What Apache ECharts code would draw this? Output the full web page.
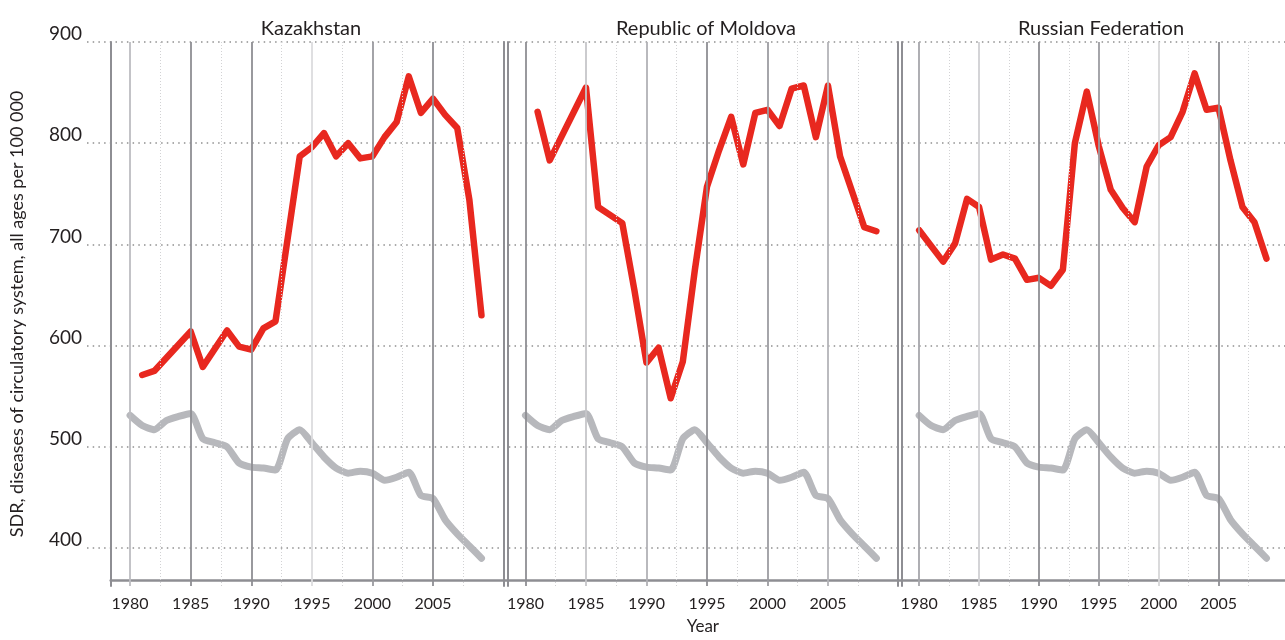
<!DOCTYPE html>
<html>
<head>
<meta charset="utf-8">
<script src="https://cdn.jsdelivr.net/npm/echarts@6/dist/echarts.min.js"></script>
<style>
html, body { margin: 0; padding: 0; background: #fff; }
#chart { width: 1285px; height: 640px; }
</style>
</head>
<body>
<div id="chart"></div>
<script>
// ---- data ----
const panelNames = ['Kazakhstan', 'Republic of Moldova', 'Russian Federation']

// grey reference line (same in every panel)
const refYears = [1980, 1981, 1982, 1983, 1984, 1985, 1986, 1987, 1988, 1989,
  1990, 1991, 1992, 1993, 1994, 1995, 1996, 1997, 1998, 1999,
  2000, 2001, 2002, 2003, 2004, 2005, 2006, 2007, 2008, 2009]
const refValues = [531, 521, 517, 526, 530, 533, 508, 504, 500, 484,
  480, 479, 477, 508, 517, 504, 490, 479, 474, 476,
  474, 467, 470, 475, 452, 449, 428, 414, 402, 390]

// country lines (only the years where the line has a vertex)
const kazYears = [1981, 1982, 1985, 1986, 1988, 1989, 1990, 1991, 1992, 1994, 1995, 1996, 1997,
  1998, 1999, 2000, 2001, 2002, 2003, 2004, 2005, 2006, 2007, 2008, 2009]
const kazValues = [571, 575, 614, 579, 615, 599, 596, 617, 624, 787, 796, 810, 787,
  800, 785, 787, 806, 821, 866, 830, 844, 828, 815, 744, 630]

const molYears = [1981, 1982, 1985, 1986, 1988, 1989, 1990, 1991, 1992, 1993, 1994, 1995, 1996,
  1997, 1998, 1999, 2000, 2001, 2002, 2003, 2004, 2005, 2006, 2007, 2008, 2009]
const molValues = [831, 783, 855, 737, 721, 655, 583, 598, 548, 584, 675, 757, 793,
  826, 779, 830, 833, 817, 854, 857, 806, 857, 787, 752, 717, 713]

const rusYears = [1980, 1982, 1983, 1984, 1985, 1986, 1987, 1988, 1989, 1990, 1991, 1992, 1993,
  1994, 1995, 1996, 1997, 1998, 1999, 2000, 2001, 2002, 2003, 2004, 2005, 2006, 2007, 2008, 2009]
const rusValues = [714, 683, 701, 745, 737, 685, 690, 686, 665, 667, 659, 675, 800,
  851, 797, 754, 736, 722, 777, 798, 806, 831, 869, 833, 835, 783, 737, 722, 686]

const countryYears = [kazYears, molYears, rusYears]
const countryValues = [kazValues, molValues, rusValues]

// axis ticks
const xLabels = [1980, 1985, 1990, 1995, 2000, 2005]
const minorYears = [1982.5, 1987.5, 1992.5, 1997.5, 2002.5, 2007.5]

// ---- layout / style ----
const FONT = 'Lato'
const TXT = '#231f20'
const FRAME = '#8e8e93'
const Y_MIN = 362.5
const Y_MAX = 900
const TOP = 42
const BOTTOM = 54

const panels = [
  { left: 110.7, right: 781.7, min: 1978.4, max: 2010.8, center: 306, border: true,
    shades: ['#bdbdc1', '#8e8e93', '#8e8e93', '#dcdcde', '#9a9a9f', '#8e8e93'] },
  { left: 507.7, right: 387.7, min: 1978.53, max: 2010.73, center: 701, border: true,
    shades: ['#8e8e93', '#c6c6c9', '#b2b2b6', '#8e8e93', '#9c9ca1', '#b4b4b8'] },
  { left: 901.7, right: 0, min: 1978.54, max: 2010.3, center: 1096, border: false,
    shades: ['#a6a6ab', '#d0d0d3', '#8e8e93', '#9c9ca1', '#d6d6d8', '#8e8e93'] }
]

const pairs = (xs, ys) => xs.map((x, i) => [x, ys[i]])

let grid = []
let xAxis = []
let yAxis = []
let series = []
let title = []

// background grid: y labels, dotted horizontal lines
grid.push({ left: 85, right: 0, top: TOP, bottom: BOTTOM })
xAxis.push({ gridIndex: 0, type: 'value', min: 0, max: 1, show: false })
yAxis.push({
  gridIndex: 0, type: 'value', min: Y_MIN, max: Y_MAX,
  name: 'SDR, diseases of circulatory system, all ages per 100 000',
  nameLocation: 'middle', nameGap: 61,
  nameTextStyle: { fontFamily: FONT, fontSize: 18, color: TXT },
  axisLine: { show: false },
  axisTick: { show: false },
  axisLabel: {
    showMinLabel: false, margin: 5, fontFamily: FONT, fontSize: 19, color: TXT,
    verticalAlign: 'bottom', lineHeight: 16
  },
  splitLine: {
    show: true, showMinLine: false,
    lineStyle: { color: '#909090', width: 1.5, type: [1.5, 4.2] }
  }
})

panels.forEach((p, i) => {
  let g = i + 1
  grid.push({ left: p.left, right: p.right, top: TOP, bottom: BOTTOM })
  xAxis.push({
    gridIndex: g, type: 'value', min: p.min, max: p.max,
    axisLine: { show: false },
    axisTick: { show: false },
    splitLine: { show: false },
    axisLabel: {
      margin: 10, fontFamily: FONT, fontSize: 16, color: TXT,
      formatter: v => xLabels.indexOf(v) >= 0 ? String(v) : ''
    }
  })
  // left border of the panel
  yAxis.push({
    gridIndex: g, type: 'value', min: Y_MIN, max: Y_MAX,
    axisLine: { show: true, lineStyle: { color: FRAME, width: 2 } },
    axisTick: { show: false }, axisLabel: { show: false }, splitLine: { show: false }
  })
  let yIdx = yAxis.length - 1
  if (p.border) {
    // right border
    yAxis.push({
      gridIndex: g, type: 'value', min: Y_MIN, max: Y_MAX, position: 'right',
      axisLine: { show: true, lineStyle: { color: FRAME, width: 2 } },
      axisTick: { show: false }, axisLabel: { show: false }, splitLine: { show: false }
    })
  }

  // vertical year lines
  let lines = xLabels.map((yr, k) => ({
    xAxis: yr, lineStyle: { color: p.shades[k], width: 1.8, type: 'solid' }
  })).concat(minorYears.map(yr => ({
    xAxis: yr, lineStyle: { color: '#d2d2d4', width: 1, type: [1, 2] }
  })))
  series.push({
    type: 'line', xAxisIndex: g, yAxisIndex: yIdx, data: [], z: 1,
    markLine: { silent: true, symbol: 'none', animation: false, label: { show: false }, data: lines }
  })

  series.push({
    name: 'reference', type: 'line', xAxisIndex: g, yAxisIndex: yIdx, z: 3,
    data: pairs(refYears, refValues), showSymbol: false, smooth: 0.2,
    lineStyle: { color: '#b7b8bc', width: 7, cap: 'round', join: 'round' }
  })
  series.push({
    name: panelNames[i], type: 'line', xAxisIndex: g, yAxisIndex: yIdx, z: 4,
    data: pairs(countryYears[i], countryValues[i]), showSymbol: false,
    lineStyle: { color: '#e8281f', width: 6.5, cap: 'round', join: 'round' }
  })

  title.push({
    text: panelNames[i], left: p.center, top: 14, textAlign: 'center',
    textStyle: { fontFamily: FONT, fontSize: 20, fontWeight: 'normal', color: TXT }
  })
})

// frame grid: continuous bottom axis line + "Year"
grid.push({ left: 110.7, right: 0, top: TOP, bottom: BOTTOM })
xAxis.push({
  gridIndex: 4, type: 'value', min: 0, max: 1,
  name: 'Year', nameLocation: 'middle', nameGap: 38,
  nameTextStyle: { fontFamily: FONT, fontSize: 17, color: TXT, padding: [0, 0, 0, 10] },
  axisLine: { show: true, lineStyle: { color: FRAME, width: 2.5 } },
  axisTick: { show: false }, axisLabel: { show: false }, splitLine: { show: false }
})
yAxis.push({ gridIndex: 4, type: 'value', show: false })

let myChart = echarts.init(document.getElementById('chart'))
myChart.setOption({
  animation: false,
  backgroundColor: '#fff',
  title: title,
  grid: grid,
  xAxis: xAxis,
  yAxis: yAxis,
  series: series
})
</script>
</body>
</html>
